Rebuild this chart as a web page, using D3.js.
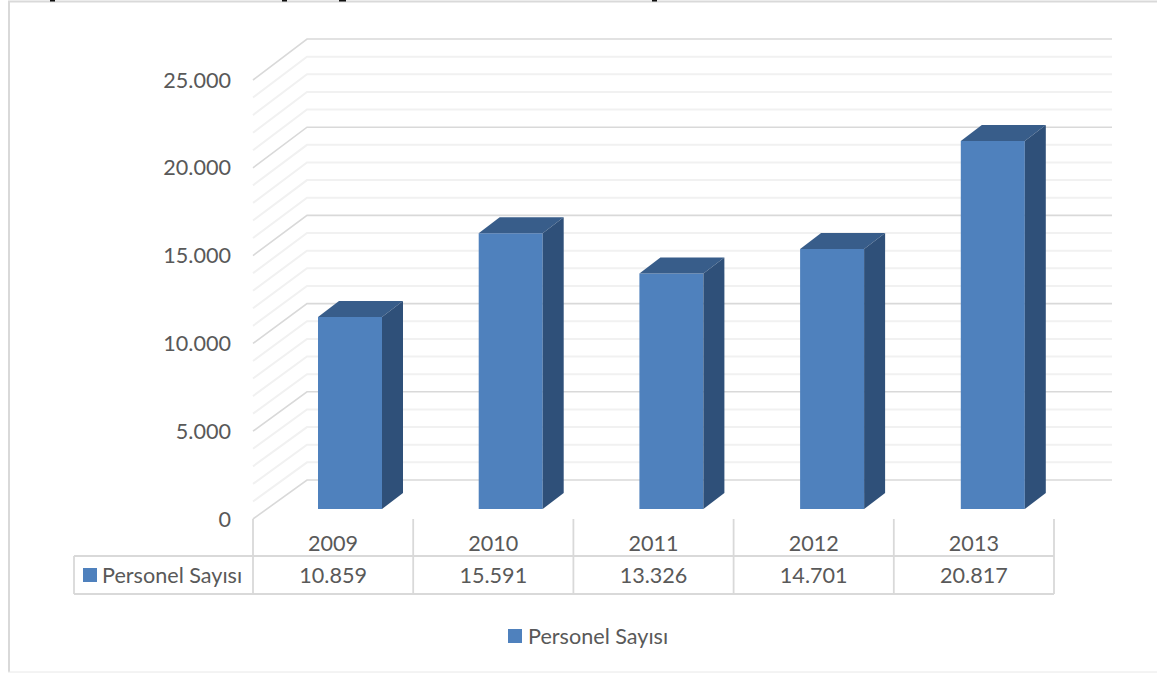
<!DOCTYPE html>
<html><head><meta charset="utf-8">
<style>html,body{margin:0;padding:0;background:#fff}svg{display:block}text{font-family:Lato,"Open Sans",sans-serif;fill:#595959}</style>
<script src="https://cdn.jsdelivr.net/npm/d3@7"></script></head>
<body><script>
const categories = ["2009","2010","2011","2012","2013"];
const seriesName = "Personel Sayısı";
const values = [10859,15591,13326,14701,20817];
const valueLabels = ["10.859","15.591","13.326","14.701","20.817"];
const majorTicks = [0,5000,10000,15000,20000,25000];
const minorTicks = d3.range(0,25001,1000);
const majorLabels = ["0","5.000","10.000","15.000","20.000","25.000"];

const W=1157,H=673, fs=21.6;
const svg=d3.select("body").append("svg").attr("width",W).attr("height",H);
const x=d3.scaleBand().domain(categories).range([253,1054]);
const barX=d3.scaleBand().domain(categories).range([318,318+5*160.7]);
const yFront=d3.scaleLinear().domain([0,25000]).range([519,80]);
const yBack=d3.scaleLinear().domain([0,25000]).range([480,39]);
const yBar=d3.scaleLinear().domain([0,25000]).range([509,67]);
const wallX=307, wallEnd=1112, dx=21, dy=16, barW=64;

const frame=svg.append("g");
frame.append("line").attr("x1",9).attr("x2",9).attr("y1",1).attr("y2",672).attr("stroke","#d9d9d9").attr("stroke-width",2);
frame.append("line").attr("x1",8).attr("x2",W).attr("y1",1.5).attr("y2",1.5).attr("stroke","#d9d9d9").attr("stroke-width",2);
frame.append("line").attr("x1",8).attr("x2",W).attr("y1",672).attr("y2",672).attr("stroke","#e8e8e8").attr("stroke-width",1);
// clipped descenders of the cropped heading above the chart
frame.append("g").attr("fill","#111").selectAll("rect").data([50,282,339,652]).join("rect")
  .attr("x",d=>d).attr("y",0).attr("width",(d,i)=>i===2?7:5).attr("height",1.5);

const isMajor=d=>d%5000===0;
const grid=svg.append("g").attr("fill","none");
minorTicks.forEach(t=>{
  grid.append("path")
    .attr("d",d3.line()([[253,yFront(t)],[wallX,yBack(t)],[wallEnd,yBack(t)]]))
    .attr("stroke",isMajor(t)?"#d9d9d9":"#f1f1f1").attr("stroke-width",isMajor(t)?1.6:2);
});

const bars=svg.append("g").selectAll("g").data(values).join("g");
const L=(d,i)=>barX(categories[i]), B=yBar(0);
bars.append("path").attr("fill","#4f81bd")
  .attr("d",(d,i)=>`M${L(d,i)},${B}V${yBar(d)}h${barW}V${B}Z`);
bars.append("path").attr("fill","#385d8a")
  .attr("d",(d,i)=>`M${L(d,i)},${yBar(d)}l${dx},${-dy}h${barW}l${-dx},${dy}Z`);
bars.append("path").attr("fill","#2f5079")
  .attr("d",(d,i)=>`M${L(d,i)+barW},${B}V${yBar(d)}l${dx},${-dy}V${B-dy}Z`);

svg.append("g").selectAll("text").data(majorTicks).join("text")
  .attr("x",231).attr("y",d=>yFront(d)).attr("dy","0.35em").attr("text-anchor","end")
  .attr("font-size",fs).text((d,i)=>majorLabels[i]);

const tl=svg.append("g").attr("stroke","#d9d9d9").attr("stroke-width",1.8);
tl.append("line").attr("x1",74).attr("x2",1054).attr("y1",556).attr("y2",556);
tl.append("line").attr("x1",74).attr("x2",1054).attr("y1",594).attr("y2",594);
tl.append("line").attr("x1",74).attr("x2",74).attr("y1",556).attr("y2",594);
[...categories.map(c=>x(c)),1054].forEach(v=>tl.append("line").attr("x1",v).attr("x2",v).attr("y1",519).attr("y2",594));

svg.append("g").selectAll("text").data(categories).join("text")
  .attr("x",d=>x(d)+x.bandwidth()/2).attr("y",543).attr("dy","0.35em").attr("text-anchor","middle")
  .attr("font-size",fs).text(d=>d);
svg.append("g").selectAll("text").data(valueLabels).join("text")
  .attr("x",(d,i)=>x(categories[i])+x.bandwidth()/2).attr("y",575).attr("dy","0.35em").attr("text-anchor","middle")
  .attr("font-size",fs).text(d=>d);

svg.append("rect").attr("x",83).attr("y",568).attr("width",14).attr("height",14).attr("fill","#4f81bd");
svg.append("text").attr("x",102).attr("y",575).attr("dy","0.35em").attr("font-size",fs).text(seriesName);
svg.append("rect").attr("x",508).attr("y",629).attr("width",14).attr("height",14).attr("fill","#4f81bd");
svg.append("text").attr("x",528).attr("y",636).attr("dy","0.35em").attr("font-size",fs).text(seriesName);
</script></body></html>
